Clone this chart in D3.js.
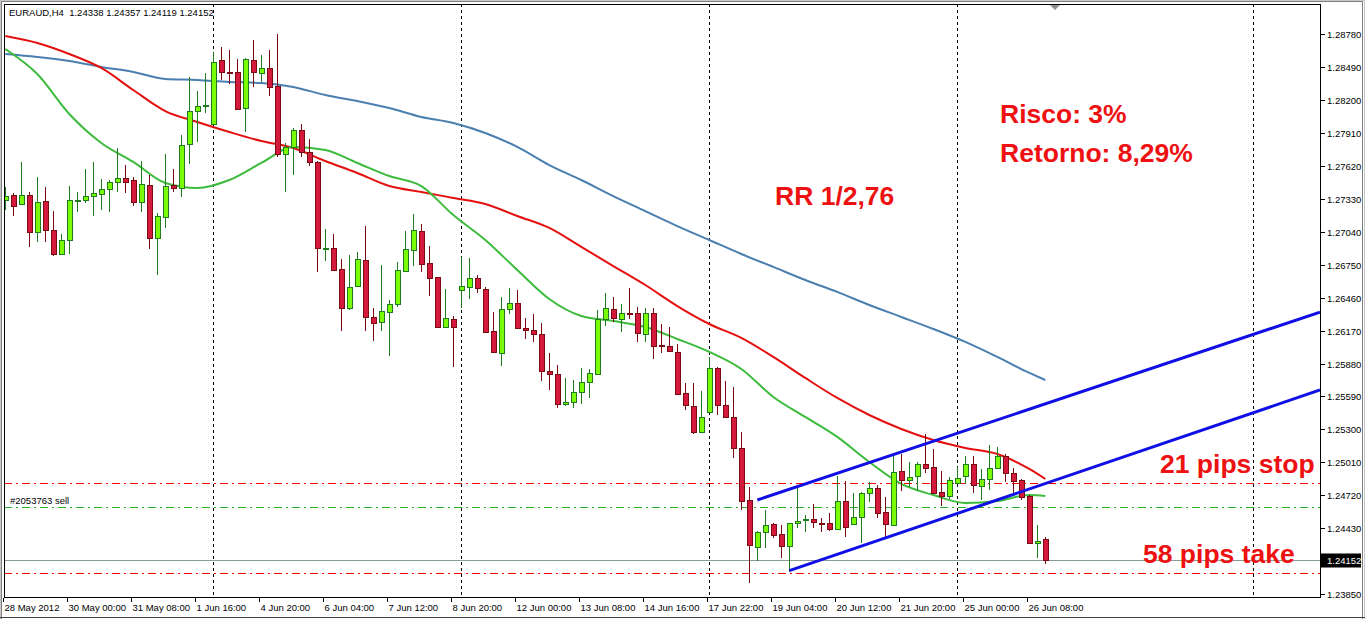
<!DOCTYPE html>
<html><head><meta charset="utf-8">
<script src="https://cdn.jsdelivr.net/npm/d3@7"></script>
<style>body{margin:0;background:#fff;overflow:hidden}svg{display:block}</style>
</head><body>
<svg id="c" width="1365" height="619"></svg>
<script>
// ---------- DATA ----------
const headerText = "EURAUD,H4  1.24338 1.24357 1.24119 1.24152";
const opens = [1.27322,1.27363,1.27281,1.27363,1.27040,1.27310,1.27053,1.26847,1.26965,1.27313,
1.27317,1.27352,1.27369,1.27416,1.27475,1.27510,1.27495,1.27299,1.27451,1.26982,
1.27167,1.27449,1.27427,1.27809,1.28102,1.28146,1.27985,1.28554,1.28446,1.28443,
1.28126,1.28554,1.28434,1.28483,1.28322,1.27721,1.27783,1.27935,1.27744,1.27656,
1.26891,1.26894,1.26709,1.26371,1.26565,1.26791,1.26290,1.26248,1.26336,1.26401,
1.26697,1.26882,1.27046,1.26762,1.26639,1.26199,1.26272,1.26530,1.26551,1.26630,
1.26536,1.26166,1.25975,1.26357,1.26410,1.26190,1.26173,1.26140,1.25817,1.25785,
1.25521,1.25539,1.25627,1.25715,1.25791,1.26269,1.26360,1.26269,1.26322,1.26322,
1.26137,1.26322,1.26040,1.26037,1.25984,1.25618,1.25509,1.25280,1.25456,1.25838,
1.25515,1.25407,1.25134,1.24676,1.24268,1.24400,1.24465,1.24380,1.24277,1.24474,
1.24503,1.24512,1.24477,1.24474,1.24424,1.24670,1.24465,1.24532,1.24738,1.24782,
1.24570,1.24456,1.24937,1.24855,1.24890,1.24996,1.24971,1.24747,1.24712,1.24826,
1.24890,1.24993,1.24802,1.24861,1.24958,1.25066,1.24914,1.24855,1.24714,1.24303,
1.24338];
const highs = [1.27436,1.27378,1.27656,1.27392,1.27519,1.27431,1.27222,1.27017,1.27440,1.27392,
1.27592,1.27656,1.27504,1.27495,1.27774,1.27627,1.27524,1.27662,1.27539,1.27202,
1.27721,1.27592,1.27891,1.28404,1.28278,1.28434,1.28624,1.28666,1.28639,1.28560,
1.28566,1.28727,1.28595,1.28639,1.28777,1.27818,1.27955,1.27985,1.27856,1.27662,
1.27064,1.27020,1.26800,1.26835,1.26864,1.27090,1.26371,1.26747,1.26439,1.26776,
1.27046,1.27196,1.27108,1.26914,1.26644,1.26536,1.26296,1.26820,1.26806,1.26659,
1.26556,1.26331,1.26463,1.26542,1.26527,1.26278,1.26313,1.26234,1.25970,1.25867,
1.25750,1.25735,1.25838,1.25832,1.26351,1.26498,1.26468,1.26401,1.26542,1.26380,
1.26366,1.26366,1.26225,1.26199,1.26049,1.25706,1.25706,1.25638,1.25940,1.25852,
1.25726,1.25676,1.25275,1.24794,1.24405,1.24591,1.24474,1.24457,1.24480,1.24811,
1.24547,1.24641,1.24518,1.24567,1.24890,1.24849,1.24738,1.24752,1.24840,1.24811,
1.24703,1.25075,1.25081,1.25016,1.25016,1.25260,1.25125,1.24934,1.24884,1.24972,
1.25066,1.25066,1.24949,1.25161,1.25143,1.25081,1.24958,1.24861,1.24720,1.24459,
1.24357];
const lows = [1.27231,1.27181,1.27275,1.26908,1.26952,1.26947,1.26829,1.26841,1.26847,1.27216,
1.27293,1.27181,1.27229,1.27216,1.27392,1.27378,1.27269,1.27216,1.26888,1.26659,
1.27070,1.27392,1.27348,1.27633,1.27827,1.28082,1.27979,1.28375,1.28337,1.28114,
1.27920,1.28316,1.28360,1.28237,1.27700,1.27392,1.27539,1.27700,1.27621,1.26688,
1.26782,1.26697,1.26166,1.26351,1.26556,1.26169,1.26081,1.26169,1.25949,1.26380,
1.26688,1.26741,1.26688,1.26474,1.26195,1.26195,1.25847,1.26366,1.26445,1.26503,
1.26146,1.25975,1.25861,1.26313,1.26181,1.26093,1.26072,1.25726,1.25647,1.25491,
1.25509,1.25486,1.25521,1.25579,1.25785,1.26213,1.26248,1.26155,1.26272,1.26072,
1.26072,1.25917,1.25970,1.25984,1.25609,1.25471,1.25257,1.25276,1.25452,1.25427,
1.25403,1.25046,1.24591,1.23946,1.24142,1.24254,1.24347,1.24166,1.24048,1.24435,
1.24400,1.24435,1.24400,1.24406,1.24415,1.24351,1.24456,1.24303,1.24664,1.24523,
1.24356,1.24450,1.24758,1.24796,1.24758,1.24914,1.24732,1.24626,1.24691,1.24820,
1.24820,1.24738,1.24679,1.24767,1.24949,1.24835,1.24743,1.24679,1.24292,1.24166,
1.24119];
const closes = [1.27357,1.27269,1.27363,1.27040,1.27299,1.27053,1.26847,1.26965,1.27317,1.27319,
1.27352,1.27378,1.27416,1.27475,1.27510,1.27475,1.27299,1.27457,1.26982,1.27176,
1.27445,1.27427,1.27803,1.28102,1.28146,1.28153,1.28531,1.28443,1.28440,1.28120,
1.28560,1.28443,1.28481,1.28316,1.27721,1.27783,1.27935,1.27744,1.27656,1.26899,
1.26897,1.26703,1.26371,1.26551,1.26797,1.26287,1.26239,1.26340,1.26401,1.26703,
1.26885,1.27053,1.26759,1.26635,1.26199,1.26278,1.26204,1.26560,1.26630,1.26549,
1.26160,1.25979,1.26357,1.26410,1.26190,1.26173,1.26137,1.25814,1.25785,1.25521,
1.25539,1.25627,1.25715,1.25794,1.26269,1.26366,1.26278,1.26322,1.26316,1.26146,
1.26322,1.26037,1.26034,1.25990,1.25612,1.25515,1.25280,1.25412,1.25838,1.25515,
1.25407,1.25134,1.24673,1.24283,1.24400,1.24459,1.24371,1.24277,1.24474,1.24497,
1.24512,1.24483,1.24471,1.24424,1.24668,1.24439,1.24527,1.24738,1.24782,1.24567,
1.24465,1.24928,1.24855,1.24879,1.24993,1.24963,1.24743,1.24712,1.24852,1.24870,
1.24993,1.24811,1.24861,1.24958,1.25066,1.24914,1.24849,1.24708,1.24298,1.24321,
1.24152];
// moving averages sampled at bar indices
const maBars = [0,4,8,12,16,20,24,28,32,36,40,44,48,52,56,60,64,68,72,76,80,84,88,92,96,100,104,108,112,116,120,124,128,130];
const maFast = [1.28648,1.28428,1.28076,1.27821,1.27654,1.27469,1.27425,1.27495,1.27645,1.27786,1.27759,1.27645,1.27530,1.27442,1.27187,1.26967,1.26703,1.26448,1.26298,1.26254,1.26202,1.26096,1.25982,1.25832,1.25586,1.25410,1.25234,1.25014,1.24820,1.24723,1.24653,1.24670,1.24723,1.24714];
const maMid = [1.28762,1.28701,1.28604,1.28481,1.28287,1.28102,1.28006,1.27918,1.27838,1.27777,1.27662,1.27557,1.27442,1.27390,1.27337,1.27284,1.27178,1.27073,1.26906,1.26738,1.26571,1.26386,1.26228,1.26105,1.25938,1.25753,1.25577,1.25427,1.25304,1.25207,1.25137,1.25084,1.24952,1.24864];
const maSlow = [1.28604,1.28578,1.28542,1.28490,1.28446,1.28384,1.28375,1.28358,1.28349,1.28314,1.28243,1.28190,1.28129,1.28050,1.27997,1.27909,1.27786,1.27627,1.27495,1.27354,1.27222,1.27090,1.26967,1.26844,1.26730,1.26615,1.26510,1.26395,1.26290,1.26184,1.26070,1.25938,1.25797,1.25735];
const timeLabelBars = [0,8,16,24,32,40,48,56,64,72,80,88,96,104,112,120,128];
const timeLabels = ["28 May 2012","30 May 00:00","31 May 08:00","1 Jun 16:00","4 Jun 20:00","6 Jun 04:00","7 Jun 12:00","8 Jun 20:00","12 Jun 00:00","13 Jun 08:00","14 Jun 16:00","17 Jun 22:00","19 Jun 04:00","20 Jun 12:00","21 Jun 20:00","25 Jun 00:00","26 Jun 08:00"];
const priceTicks = [1.28780,1.28490,1.28200,1.27910,1.27620,1.27330,1.27040,1.26750,1.26460,1.26170,1.25880,1.25590,1.25300,1.25010,1.24720,1.24430,1.24140,1.23850];
const separatorBars = [26,57,88,119,156];
const levelPrices = [1.24830,1.24620,1.24040];   // stop, entry, take profit
const levelColors = ["#ff0000","#22b022","#ff0000"];
const bidPrice = 1.24152;
const orderLabel = "#2053763 sell";
const upperChannel = [[94,1.24679],[130,1.25525]];
const lowerChannel = [[98,1.24057],[134,1.24920]];
const notes = ["RR 1/2,76","Risco: 3%","Retorno: 8,29%","21 pips stop","58 pips take"];

// ---------- LAYOUT ----------
const W = 1365, H = 619;
const plot = {l:4, t:4, r:1320, b:597};
const svg = d3.select("#c");
const x = d3.scaleLinear().domain([0, 164]).range([5.3, 5.3 + 8*164]);
const y = d3.scaleLinear().domain([1.2385, 1.2878]).range([594.2, 34]);
const fontUI = "'Liberation Sans', Arial, sans-serif";

svg.append("rect").attr("width", W).attr("height", H).attr("fill", "#fff");
// window frame
svg.append("rect").attr("x",0.5).attr("y",0.5).attr("width",W-1).attr("height",H+4)
  .attr("fill","none").attr("stroke","#c8c8c8").attr("stroke-width",1);
svg.append("rect").attr("x",1.5).attr("y",1.5).attr("width",W-4).attr("height",H+2)
  .attr("fill","none").attr("stroke","#808080").attr("stroke-width",1);
svg.append("line").attr("x1",0).attr("x2",W).attr("y1",617.5).attr("y2",617.5).attr("stroke","#404040");

const defs = svg.append("defs");
defs.append("clipPath").attr("id","clip").append("rect")
  .attr("x",plot.l+1).attr("y",plot.t+1).attr("width",plot.r-plot.l-1).attr("height",plot.b-plot.t-1);
const g = svg.append("g").attr("clip-path","url(#clip)");

const px = v => Math.round(v) + 0.5;

// separators
g.selectAll("line.sep").data(separatorBars).join("line").attr("class","sep")
  .attr("x1", d => px(x(d))).attr("x2", d => px(x(d)))
  .attr("y1", plot.t).attr("y2", plot.b)
  .attr("stroke","#000").attr("stroke-width",1).attr("stroke-dasharray","3,3")
  .attr("shape-rendering","crispEdges");

// order levels
g.selectAll("line.lvl").data(levelPrices).join("line").attr("class","lvl")
  .attr("x1", plot.l).attr("x2", plot.r)
  .attr("y1", d => px(y(d))).attr("y2", d => px(y(d)))
  .style("stroke", (d,i) => levelColors[i]).attr("stroke-width",1)
  .attr("stroke-dasharray","8,4,2,4").attr("shape-rendering","crispEdges");
// bid line
g.append("line").attr("x1",plot.l).attr("x2",plot.r)
  .attr("y1",px(y(bidPrice))).attr("y2",px(y(bidPrice)))
  .attr("stroke","#8a9a9a").attr("stroke-width",1).attr("shape-rendering","crispEdges");

g.append("text").attr("x",10).attr("y",px(y(levelPrices[1]))-4)
  .attr("font-family",fontUI).attr("font-size",9.5).attr("fill","#000").text(orderLabel);

// moving averages
const maLine = vals => d3.line().x((d,i) => x(maBars[i])).y(d => y(d)).curve(d3.curveMonotoneX)(vals);
g.append("path").attr("d", maLine(maSlow)).attr("fill","none").attr("stroke","#4a7fb0").attr("stroke-width",2);
g.append("path").attr("d", maLine(maMid)).attr("fill","none").attr("stroke","#e41010").attr("stroke-width",2);
g.append("path").attr("d", maLine(maFast)).attr("fill","none").attr("stroke","#3cbb3c").attr("stroke-width",2);

// candles
const idx = d3.range(opens.length);
const cg = g.append("g").attr("shape-rendering","crispEdges");
idx.forEach(i => {
  const o = opens[i], c = closes[i], up = c >= o;
  const cx = px(x(i));
  const stroke = up ? "#1e7b1e" : "#7a0a12";
  const fill = up ? "#7cfc00" : "#d41a3c";
  cg.append("line").attr("x1",cx).attr("x2",cx)
    .attr("y1", Math.round(y(highs[i]))).attr("y2", Math.round(y(lows[i])))
    .attr("stroke", stroke).attr("stroke-width",1);
  const top = Math.round(y(Math.max(o,c))), bot = Math.round(y(Math.min(o,c)));
  cg.append("rect").attr("x", cx - 2.5).attr("y", top + 0.5)
    .attr("width", 5).attr("height", Math.max(1, bot - top))
    .attr("fill", fill).attr("stroke", stroke).attr("stroke-width",1);
});

// channel trendlines (rays to the right edge)
function ray(pts) {
  const [[b1,p1],[b2,p2]] = pts;
  const bEnd = x.invert(plot.r);
  const pEnd = p1 + (p2 - p1) / (b2 - b1) * (bEnd - b1);
  return [[x(b1), y(p1)], [x(bEnd), y(pEnd)]];
}
[upperChannel, lowerChannel].forEach(pts => {
  g.append("path").attr("d", d3.line()(ray(pts)))
    .attr("stroke","#1010e6").attr("stroke-width",3).attr("fill","none");
});

// annotations
const noteStyle = s => s.attr("font-family","'Liberation Sans', Arial, sans-serif")
  .attr("font-weight","bold").attr("font-size",26.5).attr("fill","#ee1111");
const notePos = [[775,205],[1000,123],[1000,162],[1160,473],[1143,563]];
notes.forEach((t,i) => noteStyle(svg.append("text").attr("x",notePos[i][0]).attr("y",notePos[i][1])).text(t));

// header
svg.append("text").attr("x",9).attr("y",16).attr("font-family",fontUI).attr("font-size",9.5)
  .attr("fill","#000").style("white-space","pre").text(headerText);
// shift marker
svg.append("path").attr("d","M1050,5L1060,5L1055,10Z").attr("fill","#909090");

// plot border
svg.append("rect").attr("x",plot.l+0.5).attr("y",plot.t+0.5)
  .attr("width",plot.r-plot.l).attr("height",plot.b-plot.t)
  .attr("fill","none").attr("stroke","#000").attr("stroke-width",1);

// right price axis
const ya = svg.append("g");
priceTicks.forEach(p => {
  const yy = px(y(p));
  ya.append("line").attr("x1",plot.r+1).attr("x2",plot.r+5).attr("y1",yy).attr("y2",yy).attr("stroke","#000");
  ya.append("text").attr("x",plot.r+7).attr("y",yy+3.5).attr("font-family",fontUI).attr("font-size",9.5)
    .attr("fill","#000").text(d3.format(".5f")(p));
});
const by = px(y(bidPrice));
ya.append("rect").attr("x",plot.r+1).attr("y",by-7).attr("width",40).attr("height",14).attr("fill","#000");
ya.append("text").attr("x",plot.r+7).attr("y",by+3.5).attr("font-family",fontUI).attr("font-size",9.5)
  .attr("fill","#fff").text(d3.format(".5f")(bidPrice));

// bottom time axis
const xa = svg.append("g");
timeLabelBars.forEach((b,i) => {
  const xx = px(x(b)) - 2;
  xa.append("line").attr("x1",xx).attr("x2",xx).attr("y1",plot.b+1).attr("y2",plot.b+5).attr("stroke","#000");
  xa.append("text").attr("x",xx+1).attr("y",plot.b+14).attr("font-family",fontUI).attr("font-size",9.5)
    .attr("fill","#000").text(timeLabels[i]);
});
</script>
</body></html>
